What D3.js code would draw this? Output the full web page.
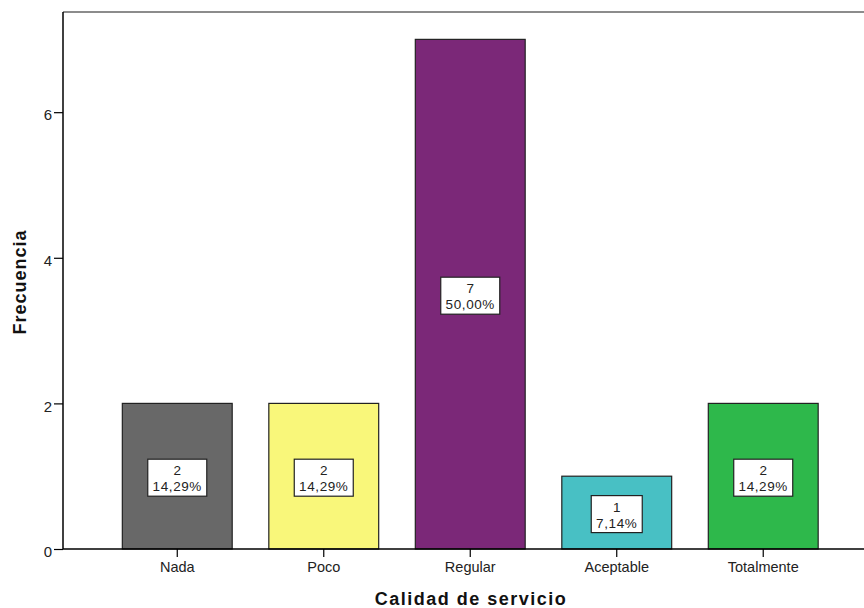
<!DOCTYPE html>
<html>
<head>
<meta charset="utf-8">
<script src="https://cdn.jsdelivr.net/npm/d3@7"></script>
<style>
html,body{margin:0;padding:0;background:#fff;}
svg{display:block;font-family:"Liberation Sans",Arial,sans-serif;}
</style>
</head>
<body>
<svg id="chart" width="864" height="608"></svg>
<script>
const categories = ["Nada", "Poco", "Regular", "Aceptable", "Totalmente"];
const counts = [2, 2, 7, 1, 2];
const percents = ["14,29%", "14,29%", "50,00%", "7,14%", "14,29%"];
const colors = ["#686868", "#f9f77a", "#7b2878", "#48c0c4", "#2eb84b"];
const yTicks = [0, 2, 4, 6];

(function () {
const FONT = "'Liberation Sans', Arial, sans-serif";
const svg = d3.select("#chart");
const pLeft = 63, pTop = 12, pBottom = 549, pRightEnd = 877.5;

const x = d3.scaleBand().domain(categories).range([pLeft, pRightEnd])
  .paddingInner(0.25).paddingOuter(0.405);
const y = d3.scaleLinear().domain([0, 7.376]).range([pBottom, pTop]);

// top border
svg.append("line").attr("x1", pLeft).attr("x2", 864).attr("y1", pTop).attr("y2", pTop)
  .attr("stroke", "#8c8c8c").attr("stroke-width", 2);

// bars
svg.selectAll("rect.bar").data(categories).join("rect")
  .attr("class", "bar")
  .attr("x", d => x(d))
  .attr("y", (d, i) => y(counts[i]))
  .attr("width", x.bandwidth())
  .attr("height", (d, i) => pBottom - y(counts[i]))
  .attr("fill", (d, i) => colors[i])
  .attr("stroke", "#222")
  .attr("stroke-width", 1.2);

// y axis
const yAxis = d3.axisLeft(y).tickValues(yTicks).tickSize(9).tickPadding(2).tickFormat(d3.format("d"));
const gy = svg.append("g").attr("transform", `translate(${pLeft},0)`).call(yAxis);
gy.select(".domain").attr("d", `M0,${pTop}V${pBottom}`).attr("stroke", "#000").attr("stroke-width", 1.5);
gy.selectAll(".tick line").attr("stroke", "#000").attr("stroke-width", 1.2);
gy.selectAll(".tick text").attr("font-size", 15).attr("fill", "#222").attr("font-family", FONT).attr("dy", "0.52em");

// x axis
const xAxis = d3.axisBottom(x).tickSize(8).tickPadding(4);
const gx = svg.append("g").attr("transform", `translate(0,${pBottom})`).call(xAxis);
gx.select(".domain").attr("d", `M${pLeft},0H864`).attr("stroke", "#000").attr("stroke-width", 1.5);
gx.selectAll(".tick line").attr("stroke", "#000").attr("stroke-width", 1.2);
gx.selectAll(".tick text").attr("font-size", 14.5).attr("fill", "#222").attr("font-family", FONT)
  .attr("y", 13).attr("dy", "0.71em");

// labels
const lab = svg.selectAll("g.lab").data(categories).join("g").attr("class", "lab")
  .attr("transform", (d, i) => `translate(${x(d) + x.bandwidth() / 2},${(y(counts[i]) + pBottom) / 2 + 1.5})`);
lab.append("rect")
  .attr("x", (d, i) => percents[i].length > 5 ? -29.5 : -25.5)
  .attr("width", (d, i) => percents[i].length > 5 ? 59 : 51)
  .attr("y", -18.5).attr("height", 37)
  .attr("fill", "#fff").attr("stroke", "#222").attr("stroke-width", 1.2);
lab.append("text").attr("text-anchor", "middle").attr("y", -2.5)
  .attr("font-size", 13.5).attr("fill", "#222").attr("font-family", FONT).text((d, i) => counts[i]);
lab.append("text").attr("text-anchor", "middle").attr("y", 13.5)
  .attr("font-size", 13.5).attr("letter-spacing", 0.6).attr("fill", "#222").attr("font-family", FONT).text((d, i) => percents[i]);

// axis titles
svg.append("text").attr("x", 471).attr("y", 605).attr("text-anchor", "middle")
  .attr("font-family", FONT).attr("letter-spacing", 1.5)
  .attr("font-size", 18).attr("font-weight", "bold").attr("fill", "#111").text("Calidad de servicio");
svg.append("text").attr("transform", "translate(26,282) rotate(-90)").attr("text-anchor", "middle")
  .attr("font-family", FONT).attr("letter-spacing", 1)
  .attr("font-size", 18).attr("font-weight", "bold").attr("fill", "#111").text("Frecuencia");
})();
</script>
</body>
</html>
